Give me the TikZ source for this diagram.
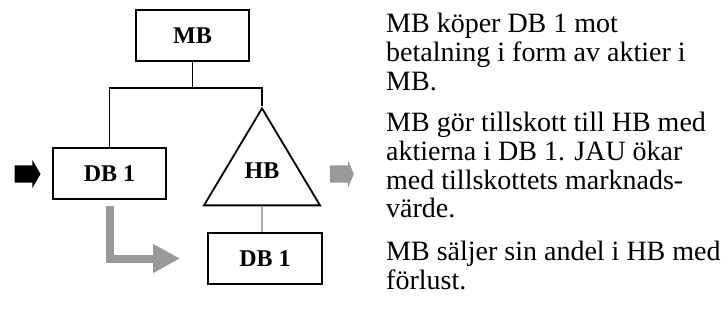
\documentclass[tikz,border=0pt]{standalone}
\usepackage{fontspec}
\setmainfont{Liberation Serif}
\usepackage{tikz}
\usetikzlibrary{positioning,arrows.meta,shapes.geometric,shapes.arrows}
\definecolor{arrowgray}{RGB}{153,153,153}
\definecolor{linkgray}{RGB}{170,170,170}

\begin{document}
\begin{tikzpicture}[x=1pt,y=-1pt]
	\tikzset{company/.style={draw,line width=1.8pt,minimum width=113pt,minimum height=51pt,inner sep=0pt,font=\fontsize{24}{24}\selectfont\bfseries}}
	\tikzstyle{note}=[anchor=north west,align=left,inner sep=0pt,font=\fontsize{28}{28.7}\selectfont]
	\tikzstyle{blockarrow}=[single arrow,inner xsep=0pt,inner ysep=8.5pt,single arrow head extend=5.5pt]
	\useasboundingbox (0,0) rectangle (722,327);

	%% Companies
	\node[company] (mb) at (192.5,35.5) {MB};
	\node[company] (dbone) at (109.5,173.5) {DB 1};
	\node[draw,line width=1.8pt,isosceles triangle,isosceles triangle stretches,shape border rotate=90,
		minimum width=116pt,minimum height=97pt,inner sep=0pt,anchor=apex] (hb) at (262,106) {};
	\node[font=\fontsize{24}{24}\selectfont\bfseries] (hblabel) at (262,171) {HB};
	\node[company,minimum width=114pt] (dbtwo) at (265,258.5) {DB 1};

	%% Ownership lines
	\coordinate (split) at ([yshift=-26pt]mb.south);
	\draw[line width=1.6pt] (mb.south) -- (split) -| (dbone.north);
	\draw[line width=1.6pt] (split) -| (hb.apex);
	\draw[linkgray,line width=1.4pt] (hb.lower side) -- (hb.lower side |- dbtwo.north);

	%% Transfers
	\node[blockarrow,fill=black,minimum height=26pt,single arrow tip angle=120] (inarrow) at (25,174) {};
	\node[blockarrow,fill=arrowgray,minimum height=24pt,single arrow head extend=4.5pt,
		single arrow tip angle=134] (outarrow) at (340,174) {};
	\draw[arrowgray,line width=8pt,-{Triangle[length=27pt,width=27pt]}]
		([yshift=-6pt]dbone.south) |- ([xshift=-27pt]dbtwo.west);

	%% Steps
	\node[note] (stepone) at (386,13) {MB köper DB 1 mot\\betalning i form av aktier i\\MB.};
	\node[note] (steptwo) at (386,112) {MB gör tillskott till HB med\\aktierna i DB 1. JAU ökar\\med tillskottets marknads-\\värde.};
	\node[note] (stepthree) at (386,241) {MB säljer sin andel i HB med\\förlust.};
\end{tikzpicture}
\end{document}
